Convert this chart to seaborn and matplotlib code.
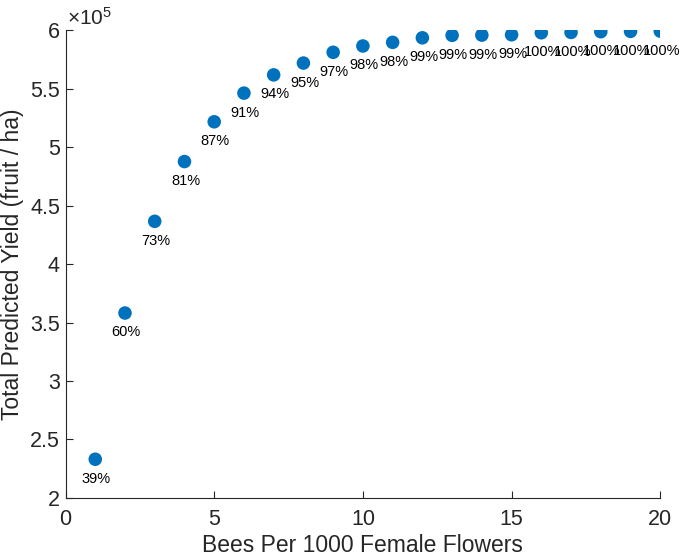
import numpy as np
import pandas as pd
import seaborn as sns
import matplotlib
matplotlib.use("Agg")
import matplotlib.pyplot as plt
from matplotlib.ticker import FuncFormatter

# values
bees = [1, 2, 3, 4, 5, 6, 7, 8, 9, 10, 11, 12, 13, 14, 15, 16, 17, 18, 19, 20]
yield_total = [233100, 358100, 436500, 487600, 521600, 546100, 561700, 571800, 581000, 586400,
               589500, 593400, 595500, 595700, 596000, 597700, 598000, 598600, 598900, 599100]
pct_labels = ["39%", "60%", "73%", "81%", "87%", "91%", "94%", "95%", "97%", "98%",
              "98%", "99%", "99%", "99%", "99%", "100%", "100%", "100%", "100%", "100%"]

df = pd.DataFrame({"bees": bees, "yield": yield_total, "label": pct_labels})

sns.set_style("white")
plt.rcParams['font.family'] = ['Liberation Sans', 'DejaVu Sans']
plt.rcParams['mathtext.fontset'] = 'custom'
plt.rcParams['mathtext.rm'] = 'Liberation Sans'
ink = "#262626"

fig = plt.figure(figsize=(6.86, 5.57), dpi=100)
ax = fig.add_axes([0.0955, 0.106, 0.867, 0.840])

sns.scatterplot(x="bees", y="yield", data=df, ax=ax, color="#0072BD",
                s=95, edgecolor="none", zorder=3)

# percentage labels under each point
for _, row in df.iterrows():
    ax.annotate(row["label"], (row["bees"], row["yield"]), xytext=(0.8, -14),
                textcoords="offset points", ha="center", va="center",
                fontsize=10.5, color="black")

ax.set_xlim(0, 20)
ax.set_ylim(2e5, 6e5)
ax.set_xticks(np.arange(0, 21, 5))
ax.set_yticks(np.arange(2e5, 6.01e5, 0.5e5))
ax.yaxis.set_major_formatter(FuncFormatter(lambda v, p: f"{v / 1e5:g}"))
ax.text(0.002, 1.003, r"$\times\mathregular{10^5}$", transform=ax.transAxes, fontsize=15,
        color=ink, ha="left", va="bottom")

ax.set_xlabel("Bees Per 1000 Female Flowers", fontsize=16.5, color=ink, labelpad=3)
ax.set_ylabel("Total Predicted Yield (fruit / ha)", fontsize=16.5, color=ink, labelpad=4.5)

ax.tick_params(direction="in", length=5, width=0.8, colors=ink, labelsize=15.5,
               bottom=True, left=True)
ax.tick_params(axis="x", pad=8)
ax.tick_params(axis="y", pad=4)
for side in ["top", "right"]:
    ax.spines[side].set_visible(False)
for side in ["left", "bottom"]:
    ax.spines[side].set_color(ink)
    ax.spines[side].set_linewidth(0.8)

fig.savefig("out.png", dpi=100)
